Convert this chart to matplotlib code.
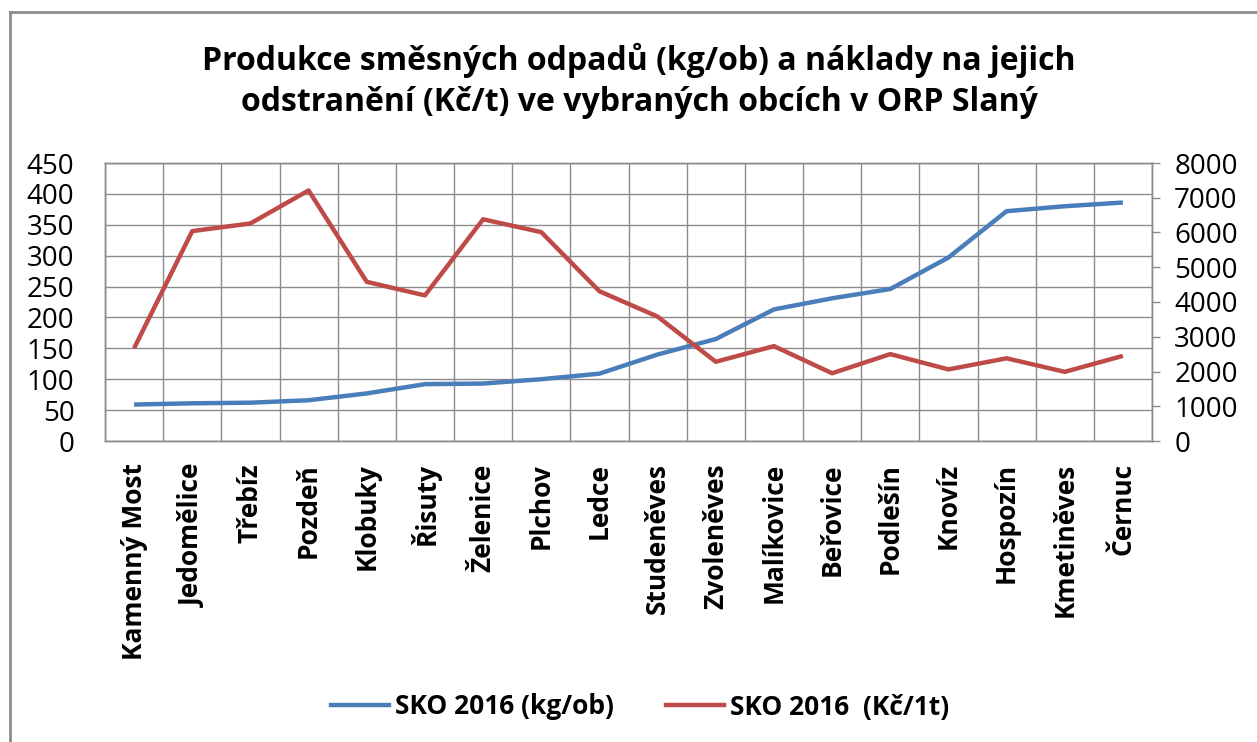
import matplotlib
matplotlib.use("Agg")
import matplotlib.pyplot as plt
from matplotlib.lines import Line2D
import numpy as np

# data
obce = ["Kamenný Most", "Jedomělice", "Třebíz", "Pozdeň", "Klobuky", "Řisuty",
        "Želenice", "Plchov", "Ledce", "Studeněves", "Zvoleněves", "Malíkovice",
        "Beřovice", "Podlešín", "Knovíz", "Hospozín", "Kmetiněves", "Černuc"]
sko_kg_ob = [59, 61, 62, 66, 77, 92, 93, 100, 109, 140, 165, 213,
             231, 246, 297, 372, 380, 386]
sko_kc_t = [2670, 6040, 6260, 7210, 4580, 4190, 6380, 6010, 4310, 3580,
            2280, 2730, 1950, 2500, 2060, 2380, 1990, 2450]
left_ticks = list(range(0, 451, 50))
right_ticks = list(range(0, 8001, 1000))

series_names = ["SKO 2016 (kg/ob)", "SKO 2016  (Kč/1t)"]
title = ("Produkce směsných odpadů (kg/ob) a náklady na jejich\n"
         "odstranění (Kč/t) ve vybraných obcích v ORP Slaný")

BLUE = "#4a7ebb"
RED = "#be4b48"
GRID = "#8c8c8c"
FONT = "Open Sans"

W, H = 1257, 742
fig = plt.figure(figsize=(W / 100, H / 100), dpi=100)

# plot area in pixels: x 105..1152, y 163..441
ax = fig.add_axes([105 / W, 1 - 441 / H, (1152 - 105) / W, (441 - 163) / H])
ax2 = ax.twinx()

x = np.arange(len(obce)) + 0.5
ax.plot(x, sko_kg_ob, color=BLUE, lw=3.2, solid_capstyle="butt", zorder=3)
ax2.plot(x, sko_kc_t, color=RED, lw=3.2, solid_capstyle="butt", zorder=3)

ax.set_xlim(0, len(obce))
ax.set_ylim(0, 450)
ax2.set_ylim(0, 8000)

ax.set_yticks(left_ticks)
ax.set_yticklabels([str(v) for v in left_ticks], fontsize=20, family=FONT)
ax.tick_params(axis="y", length=0, pad=22)
ax2.set_yticks(right_ticks)
ax2.set_yticklabels([str(v) for v in right_ticks], fontsize=20, family=FONT)
ax2.tick_params(axis="y", length=6, width=1, color=GRID, pad=10)

ax.set_xticks(np.arange(len(obce) + 1), minor=False)
ax.set_xticklabels([])
ax.set_xticks(x, minor=True)
ax.set_xticklabels(obce, minor=True, rotation=90, fontsize=19,
                   family=FONT, fontweight="bold", va="top", ha="center")
ax.tick_params(axis="x", which="both", length=0)
ax.tick_params(axis="x", which="minor", pad=16)

ax.grid(True, which="major", color=GRID, lw=1)
ax.set_axisbelow(True)
for a in (ax, ax2):
    for s in a.spines.values():
        s.set_color(GRID)
        s.set_linewidth(1)

fig.text(639 / W, 1 - 81 / H, title, ha="center", va="center",
         fontsize=23, fontweight="bold", family=FONT, linespacing=1.3)

handles = [Line2D([], [], color=BLUE, lw=3.2), Line2D([], [], color=RED, lw=3.2)]
fig.legend(handles, series_names, loc="center", bbox_to_anchor=(640 / W, 1 - 707 / H),
           ncol=2, frameon=False, handlelength=2.2, handletextpad=0.2,
           columnspacing=2.0, prop={"family": FONT, "weight": "bold", "size": 19})

# outer chart border (left and top edges visible)
fig.add_artist(Line2D([10 / W, 10 / W], [0, 1 - 12 / H], color="#8c8c8c", lw=2,
                      transform=fig.transFigure))
fig.add_artist(Line2D([10 / W, 1], [1 - 12 / H, 1 - 12 / H], color="#8c8c8c", lw=2,
                      transform=fig.transFigure))

fig.savefig("out.png", dpi=100)
